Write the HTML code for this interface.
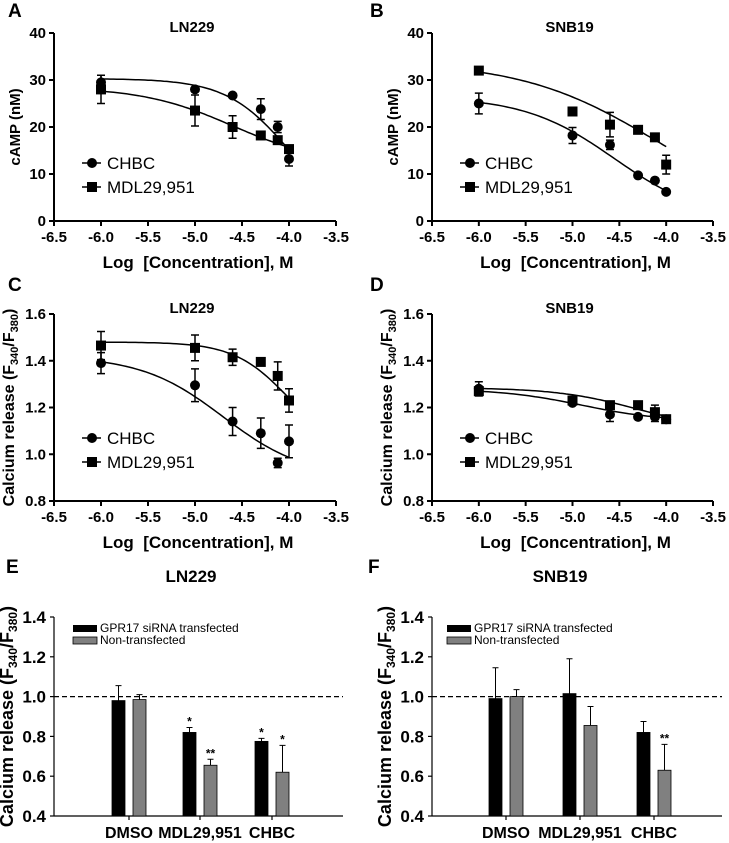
<!DOCTYPE html>
<html><head><meta charset="utf-8"><style>
body{margin:0;background:#fff;width:729px;height:843px;overflow:hidden}
svg{display:block;font-family:"Liberation Sans",Arial,sans-serif}
</style></head><body>
<svg id="fig" width="729" height="843" viewBox="0 0 729 843"></svg>
<script>
const conc = [-6, -5, -4.6, -4.3, -4.12, -4];
const xTicks = [-6.5, -6.0, -5.5, -5.0, -4.5, -4.0, -3.5];
const camTicks = [0, 10, 20, 30, 40];
const calTicks = [0.8, 1.0, 1.2, 1.4, 1.6];
const barTicks = [0.4, 0.6, 0.8, 1.0, 1.2, 1.4];
const barCats = ["DMSO", "MDL29,951", "CHBC"];
// A
const aChbc = [29.5, 28, 26.7, 23.8, 20, 13.2];
const aChbcErr = [1.5, 0, 0, 2.2, 1.2, 1.5];
const aMdl = [28, 23.5, 20, 18.2, 17.2, 15.3];
const aMdlErr = [3, 3.3, 2.4, 0, 0, 0];
const aChbcFit = [30.3, 0, -4.0, 1.3];
const aMdlFit = [28.5, 12, -4.6, 0.9];
// B
const bChbc = [25, 18.2, 16.2, 9.7, 8.6, 6.2];
const bChbcErr = [2.2, 1.7, 1, 0, 0, 0];
const bMdl = [32, 23.3, 20.5, 19.4, 17.8, 12];
const bMdlErr = [0, 0, 2.6, 0, 0, 2];
const bChbcFit = [26.5, 0, -4.55, 0.9];
const bMdlFit = [34, 0, -4.1, 0.6];
// C
const cChbc = [1.39, 1.295, 1.14, 1.09, 0.963, 1.055];
const cChbcErr = [0.045, 0.07, 0.06, 0.065, 0.02, 0.07];
const cMdl = [1.465, 1.455, 1.415, 1.395, 1.335, 1.23];
const cMdlErr = [0.06, 0.055, 0.035, 0.01, 0.06, 0.05];
const cChbcFit = [1.42, 0.9, -4.7, 1];
const cMdlFit = [1.48, 1.0, -4.0, 1.5];
// D
const dChbc = [1.28, 1.22, 1.17, 1.16, 1.16, 1.15];
const dChbcErr = [0.03, 0.01, 0.03, 0, 0.02, 0];
const dMdl = [1.27, 1.23, 1.21, 1.21, 1.18, 1.15];
const dMdlErr = [0.02, 0.01, 0, 0, 0.03, 0];
const dChbcFit = [1.28, 1.14, -4.9, 1];
const dMdlFit = [1.285, 1.1, -4.3, 1];
// E
const eBlack = [0.98, 0.82, 0.775];
const eBlackErr = [0.075, 0.025, 0.015];
const eGray = [0.985, 0.655, 0.62];
const eGrayErr = [0.025, 0.03, 0.135];
const eBlackSig = ["", "*", "*"];
const eGraySig = ["", "**", "*"];
// F
const fBlack = [0.99, 1.015, 0.82];
const fBlackErr = [0.155, 0.175, 0.055];
const fGray = [1.0, 0.855, 0.63];
const fGrayErr = [0.035, 0.095, 0.13];
const fBlackSig = ["", "", ""];
const fGraySig = ["", "", "**"];

const NS = "http://www.w3.org/2000/svg";
const svg = document.getElementById('fig');
function mk(tag, attrs, parent, text) {
  const e = document.createElementNS(NS, tag);
  for (const k in attrs) e.setAttribute(k, attrs[k]);
  if (text !== undefined) e.textContent = text;
  (parent || svg).appendChild(e);
  return e;
}
function fit(p, x) { return p[1] + (p[0] - p[1]) / (1 + Math.pow(10, (x - p[2]) * p[3])); }

function curvePanel(o) {
  const g = mk('g', {});
  
  
  const X = v => o.x0 + (v - (-6.5)) / 3 * (o.x1 - o.x0);
  const Y = v => o.y0 - (v - o.ymin) / (o.ymax - o.ymin) * (o.y0 - o.y1);
  const L = mk('text', {x: o.lx, y: o.ly, 'font-size': 19, 'font-weight': 'bold'}, g, o.letter);
   
  const T = mk('text', {x: (o.x0 + o.x1) / 2 - 3, y: o.y1 - 1, 'font-size': 15, 'font-weight': 'bold', 'text-anchor': 'middle'}, g, o.title);
   
  mk('line', {x1: o.x0, y1: o.y1, x2: o.x0, y2: o.y0 + 1, stroke: '#000', 'stroke-width': 2}, g);
  mk('line', {x1: o.x0 - 1, y1: o.y0, x2: o.x1, y2: o.y0, stroke: '#000', 'stroke-width': 2}, g);
  o.yt.forEach(v => {
    mk('line', {x1: o.x0 - 5, y1: Y(v), x2: o.x0, y2: Y(v), stroke: '#000', 'stroke-width': 2}, g);
    const t = mk('text', {x: o.x0 - 8, y: Y(v) + 5, 'font-size': 15, 'font-weight': 'bold', 'text-anchor': 'end'}, g, o.fmt(v));
     
  });
  xTicks.forEach(v => {
    mk('line', {x1: X(v), y1: o.y0, x2: X(v), y2: o.y0 + 5, stroke: '#000', 'stroke-width': 2}, g);
    const t = mk('text', {x: X(v), y: o.y0 + 21, 'font-size': 15, 'font-weight': 'bold', 'text-anchor': 'middle'}, g, v.toFixed(1));
     
  });
  const xt = mk('text', {x: (o.x0 + o.x1) / 2 + 3, y: o.y0 + 47, 'font-size': 17, 'font-weight': 'bold', 'text-anchor': 'middle'}, g, 'Log\u00a0 [Concentration], M');
   
  const yt = mk('text', {transform: `translate(${o.ytx},${(o.y0 + o.y1) / 2}) rotate(-90)`, 'font-size': o.ytsize, 'font-weight': 'bold', 'text-anchor': 'middle'}, g);
   
  if (o.calcium) {
    yt.appendChild(document.createTextNode('Calcium release (F'));
    mk('tspan', {'font-size': 11, dy: 4}, yt, '340');
    mk('tspan', {dy: -4}, yt, '/F');
    mk('tspan', {'font-size': 11, dy: 4}, yt, '380');
    mk('tspan', {dy: -4}, yt, ')');
  } else yt.textContent = 'cAMP (nM)';
  o.series.forEach((s, si) => {
    const sg = mk('g', {}, g);
    
    
    let d = '';
    for (let i = 0; i <= 60; i++) {
      const xv = -6 + 2 * i / 60;
      d += (i ? 'L' : 'M') + X(xv).toFixed(1) + ',' + Y(fit(s.fit, xv)).toFixed(1);
    }
    const p = mk('path', {d, fill: 'none', stroke: '#000', 'stroke-width': 1.5}, sg);
     
    conc.forEach((c, i) => {
      const cx = X(c), cy = Y(s.vals[i]), e = s.err[i];
      if (e > 0) {
        const ya = Y(s.vals[i] + e), yb = Y(s.vals[i] - e);
        mk('path', {d: `M${cx},${ya}V${yb}M${cx - 4},${ya}H${cx + 4}M${cx - 4},${yb}H${cx + 4}`, stroke: '#000', 'stroke-width': 1.5, fill: 'none'}, sg);
      }
      let m;
      if (s.shape === 'circle') m = mk('circle', {cx, cy, r: 5, fill: '#000'}, sg);
      else m = mk('rect', {x: cx - 5, y: cy - 5, width: 10, height: 10, fill: '#000'}, sg);
       
    });
    const ly = o.legY + si * 24;
    const lg = mk('g', {}, g);
     
    mk('line', {x1: o.legX, y1: ly, x2: o.legX + 19, y2: ly, stroke: '#000', 'stroke-width': 1.5}, lg);
    if (s.shape === 'circle') mk('circle', {cx: o.legX + 10, cy: ly, r: 5, fill: '#000'}, lg);
    else mk('rect', {x: o.legX + 5, y: ly - 5, width: 10, height: 10, fill: '#000'}, lg);
    mk('text', {x: o.legX + 25, y: ly + 6, 'font-size': 17}, lg, s.label);
  });
}

curvePanel({name: 'panel-a', letter: 'A', lx: 8, ly: 17, title: 'LN229', x0: 54, x1: 336, y0: 221, y1: 33, ymin: 0, ymax: 40, yt: camTicks, fmt: v => String(v), ytx: 20, ytsize: 15, calcium: false, legX: 82, legY: 163,
  series: [{sname: 'series-chbc', label: 'CHBC', shape: 'circle', vals: aChbc, err: aChbcErr, fit: aChbcFit},
           {sname: 'series-mdl29951', label: 'MDL29,951', shape: 'square', vals: aMdl, err: aMdlErr, fit: aMdlFit}]});
curvePanel({name: 'panel-b', letter: 'B', lx: 370, ly: 17, title: 'SNB19', x0: 432, x1: 713, y0: 221, y1: 33, ymin: 0, ymax: 40, yt: camTicks, fmt: v => String(v), ytx: 398, ytsize: 15, calcium: false, legX: 460, legY: 163,
  series: [{sname: 'series-chbc', label: 'CHBC', shape: 'circle', vals: bChbc, err: bChbcErr, fit: bChbcFit},
           {sname: 'series-mdl29951', label: 'MDL29,951', shape: 'square', vals: bMdl, err: bMdlErr, fit: bMdlFit}]});
curvePanel({name: 'panel-c', letter: 'C', lx: 8, ly: 291, title: 'LN229', x0: 54, x1: 336, y0: 501, y1: 314, ymin: 0.8, ymax: 1.6, yt: calTicks, fmt: v => v.toFixed(1), ytx: 14, ytsize: 16, calcium: true, legX: 82, legY: 438,
  series: [{sname: 'series-chbc', label: 'CHBC', shape: 'circle', vals: cChbc, err: cChbcErr, fit: cChbcFit},
           {sname: 'series-mdl29951', label: 'MDL29,951', shape: 'square', vals: cMdl, err: cMdlErr, fit: cMdlFit}]});
curvePanel({name: 'panel-d', letter: 'D', lx: 370, ly: 291, title: 'SNB19', x0: 432, x1: 713, y0: 501, y1: 314, ymin: 0.8, ymax: 1.6, yt: calTicks, fmt: v => v.toFixed(1), ytx: 392, ytsize: 16, calcium: true, legX: 460, legY: 438,
  series: [{sname: 'series-chbc', label: 'CHBC', shape: 'circle', vals: dChbc, err: dChbcErr, fit: dChbcFit},
           {sname: 'series-mdl29951', label: 'MDL29,951', shape: 'square', vals: dMdl, err: dMdlErr, fit: dMdlFit}]});

function barPanel(o) {
  const g = mk('g', {});
  
  
  const Y = v => o.y0 - (v - 0.4) / 1.0 * (o.y0 - o.y1);
  const L = mk('text', {x: o.lx, y: 573, 'font-size': 19, 'font-weight': 'bold'}, g, o.letter);
   
  const T = mk('text', {x: o.tx, y: 582, 'font-size': 17, 'font-weight': 'bold', 'text-anchor': 'middle'}, g, o.title);
   
  mk('line', {x1: o.x0, y1: o.y1, x2: o.x0, y2: o.y0, stroke: '#000', 'stroke-width': 1.2}, g);
  mk('line', {x1: o.x0, y1: o.y0, x2: o.x1, y2: o.y0, stroke: '#000', 'stroke-width': 1.2}, g);
  barTicks.forEach(v => {
    mk('line', {x1: o.x0 - 4, y1: Y(v), x2: o.x0, y2: Y(v), stroke: '#000', 'stroke-width': 1.2}, g);
    const t = mk('text', {x: o.x0 - 8, y: Y(v) + 6, 'font-size': 17, 'font-weight': 'bold', 'text-anchor': 'end'}, g, v.toFixed(1));
     
  });
  const ref = mk('line', {x1: o.x0, y1: Y(1), x2: o.x1, y2: Y(1), stroke: '#000', 'stroke-width': 1.2, 'stroke-dasharray': '5,3'}, g);
   
  const yt = mk('text', {transform: `translate(${o.x0 - 41},${(o.y0 + o.y1) / 2}) rotate(-90)`, 'font-size': 18, 'font-weight': 'bold', 'text-anchor': 'middle'}, g);
   
  yt.appendChild(document.createTextNode('Calcium release (F'));
  mk('tspan', {'font-size': 12, dy: 4}, yt, '340');
  mk('tspan', {dy: -4}, yt, '/F');
  mk('tspan', {'font-size': 12, dy: 4}, yt, '380');
  mk('tspan', {dy: -4}, yt, ')');
  const bw = 13;
  barCats.forEach((c, i) => {
    const cx = o.cx[i];
    mk('line', {x1: cx, y1: o.y0, x2: cx, y2: o.y0 + 4, stroke: '#000', 'stroke-width': 1.2}, g);
    const t = mk('text', {x: cx, y: o.y0 + 22, 'font-size': 16, 'font-weight': 'bold', 'text-anchor': 'middle'}, g, c);
     
    [[o.black, o.blackErr, o.blackSig, '#000', -10.5, 'bar-sirna'], [o.gray, o.grayErr, o.graySig, '#808080', 10.5, 'bar-non-transfected']].forEach(s => {
      const v = s[0][i], e = s[1][i], bx = cx + s[4];
      const r = mk('rect', {x: bx - bw / 2, y: Y(v), width: bw, height: o.y0 - Y(v), fill: s[3], stroke: '#000', 'stroke-width': 0.8}, g);
       
      mk('path', {d: `M${bx},${Y(v)}V${Y(v + e)}M${bx - 3},${Y(v + e)}H${bx + 3}`, stroke: '#000', 'stroke-width': 1, fill: 'none'}, g);
      if (s[2][i]) {
        const st = mk('text', {x: bx, y: Y(v + e) - 2, 'font-size': 12, 'font-weight': 'bold', 'text-anchor': 'middle'}, g, s[2][i]);
         
      }
    });
  });
  const lg = mk('g', {}, g);
   
  mk('rect', {x: o.legX, y: 625, width: 24, height: 7, fill: '#000'}, lg);
  mk('text', {x: o.legX + 27, y: 632, 'font-size': 12}, lg, 'GPR17 siRNA transfected');
  mk('rect', {x: o.legX, y: 637, width: 24, height: 7, fill: '#808080', stroke: '#000', 'stroke-width': 0.8}, lg);
  mk('text', {x: o.legX + 27, y: 644, 'font-size': 12}, lg, 'Non-transfected');
}
barPanel({name: 'panel-e', letter: 'E', lx: 6, title: 'LN229', tx: 191, x0: 54, x1: 343, y0: 816, y1: 617, cx: [129, 200, 272], legX: 73,
  black: eBlack, blackErr: eBlackErr, gray: eGray, grayErr: eGrayErr, blackSig: eBlackSig, graySig: eGraySig});
barPanel({name: 'panel-f', letter: 'F', lx: 368, title: 'SNB19', tx: 560, x0: 432, x1: 722, y0: 816, y1: 617, cx: [506, 580, 654], legX: 447,
  black: fBlack, blackErr: fBlackErr, gray: fGray, grayErr: fGrayErr, blackSig: fBlackSig, graySig: fGraySig});
</script>
</body></html>
